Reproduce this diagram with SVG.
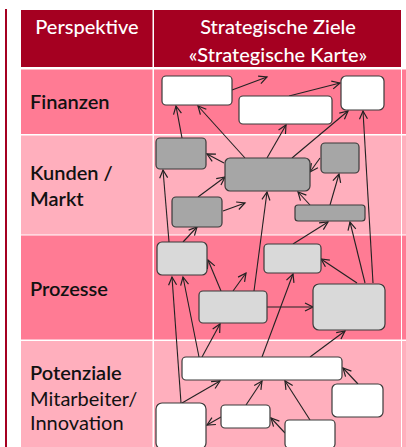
<svg xmlns="http://www.w3.org/2000/svg" width="406" height="447" viewBox="0 0 406 447">
<style>
.hdr{fill:#A50021}
.strong{fill:#FF7B94}
.light{fill:#FFAFBD}
.ht{font-family:Lato,"Liberation Sans",sans-serif;font-size:20px;fill:#fff;text-anchor:middle;font-weight:500}
.lt{font-family:Lato,"Liberation Sans",sans-serif;font-size:20px;fill:#111;font-weight:600}
.lr{font-family:Lato,"Liberation Sans",sans-serif;font-size:20px;fill:#111}
.box{stroke:#3a3a3a;stroke-width:1.2}
.w{fill:#fff}
.dg{fill:#A6A6A6}
.lg{fill:#D9D9D9}
.c line{stroke:#222;stroke-width:1.1;marker-end:url(#ah)}
</style>
<defs>
<marker id="ah" markerUnits="userSpaceOnUse" markerWidth="12" markerHeight="12" refX="9" refY="5" orient="auto">
<path d="M1,1 L9,5 L1,9" fill="none" stroke="#222" stroke-width="1.2"/>
</marker>
</defs>
<rect width="406" height="447" fill="#fff"/>
<rect x="5" y="9" width="2" height="438" class="hdr"/>
<g id="table">
<rect x="21" y="10" width="131.5" height="57" class="hdr"/>
<rect x="154" y="10" width="247" height="57" class="hdr"/>
<rect x="21" y="69.5" width="131.5" height="64.5" class="strong"/>
<rect x="154" y="69.5" width="247" height="64.5" class="strong"/>
<rect x="402" y="69.5" width="4" height="64.5" class="strong"/>
<rect x="21" y="135.5" width="131.5" height="99" class="light"/>
<rect x="154" y="135.5" width="247" height="99" class="light"/>
<rect x="402" y="135.5" width="4" height="99" class="light"/>
<rect x="21" y="235.5" width="131.5" height="104" class="strong"/>
<rect x="154" y="235.5" width="247" height="104" class="strong"/>
<rect x="402" y="235.5" width="4" height="104" class="strong"/>
<rect x="21" y="341" width="131.5" height="106" class="light"/>
<rect x="154" y="341" width="247" height="106" class="light"/>
<rect x="402" y="341" width="4" height="106" class="light"/>
<text class="ht" x="87" y="34">Perspektive</text>
<text class="ht" x="278" y="34">Strategische Ziele</text>
<text class="ht" x="278" y="62">«Strategische Karte»</text>
<text class="lt" x="30" y="109">Finanzen</text>
<text class="lt" x="30" y="180">Kunden /</text>
<text class="lt" x="30" y="206">Markt</text>
<text class="lt" x="30" y="296">Prozesse</text>
<text class="lt" x="30" y="380">Potenziale</text>
<text class="lr" x="30" y="406">Mitarbeiter/</text>
<text class="lr" x="30" y="430">Innovation</text>
</g>
<g id="connectors" class="c">
<line x1="232" y1="90" x2="267" y2="77"/>
<line x1="289" y1="96" x2="340" y2="83"/>
<line x1="182" y1="138" x2="176" y2="106"/>
<line x1="245" y1="158" x2="198" y2="106"/>
<line x1="267" y1="158" x2="286" y2="125"/>
<line x1="292" y1="158" x2="348" y2="111"/>
<line x1="373" y1="283" x2="363" y2="111"/>
<line x1="224" y1="163" x2="207" y2="154"/>
<line x1="320" y1="158" x2="310" y2="172"/>
<line x1="223" y1="211" x2="245" y2="203"/>
<line x1="198" y1="197" x2="225" y2="177"/>
<line x1="310" y1="205" x2="298" y2="192"/>
<line x1="330" y1="205" x2="339" y2="174"/>
<line x1="254" y1="291" x2="267" y2="192"/>
<line x1="169" y1="242" x2="163" y2="170"/>
<line x1="183" y1="242" x2="197" y2="227"/>
<line x1="293" y1="244" x2="328" y2="222"/>
<line x1="365" y1="283" x2="350" y2="222"/>
<line x1="221" y1="291" x2="208" y2="260"/>
<line x1="233" y1="291" x2="246" y2="273"/>
<line x1="267" y1="307" x2="313" y2="307"/>
<line x1="357" y1="283" x2="321" y2="259"/>
<line x1="262" y1="357" x2="293" y2="274"/>
<line x1="202" y1="357" x2="220" y2="324"/>
<line x1="181" y1="403" x2="172" y2="277"/>
<line x1="199" y1="357" x2="183" y2="277"/>
<line x1="310" y1="357" x2="345" y2="331"/>
<line x1="358" y1="384" x2="343" y2="368"/>
<line x1="182" y1="403" x2="220" y2="381"/>
<line x1="246" y1="405" x2="262" y2="381"/>
<line x1="310" y1="420" x2="285" y2="381"/>
<line x1="221" y1="417" x2="207" y2="425"/>
<line x1="285" y1="433" x2="271" y2="418"/>
</g>
<g id="F1"><rect class="box w" x="162" y="76" width="70" height="29" rx="4"/></g>
<g id="F2"><rect class="box w" x="239" y="96" width="93" height="28" rx="4"/></g>
<g id="F3"><rect class="box w" x="341" y="76" width="43" height="34" rx="5"/></g>
<g id="K1"><rect class="box dg" x="156" y="138" width="50" height="31" rx="4"/></g>
<g id="K2"><rect class="box dg" x="225" y="158" width="85" height="33" rx="5"/></g>
<g id="K3"><rect class="box dg" x="321" y="143" width="38" height="30" rx="4"/></g>
<g id="K4"><rect class="box dg" x="172" y="197" width="50" height="30" rx="4"/></g>
<g id="K5"><rect class="box dg" x="295" y="205" width="70" height="16" rx="3"/></g>
<g id="P1"><rect class="box lg" x="157" y="242" width="50" height="33" rx="5"/></g>
<g id="P2"><rect class="box lg" x="264" y="244" width="57" height="29" rx="4"/></g>
<g id="P3"><rect class="box lg" x="199" y="291" width="68" height="32" rx="4"/></g>
<g id="P4"><rect class="box lg" x="313" y="284" width="72" height="46" rx="6"/></g>
<g id="Pot1"><rect class="box w" x="182" y="357" width="160" height="23" rx="4"/></g>
<g id="Pot2"><rect class="box w" x="332" y="384" width="51" height="33" rx="5"/></g>
<g id="Pot3"><rect class="box w" x="221" y="405" width="49" height="23" rx="4"/></g>
<g id="Pot4"><rect class="box w" x="285" y="420" width="50" height="28" rx="4"/></g>
<g id="Pot5"><rect class="box w" x="156" y="403" width="50" height="46" rx="6"/></g>
</svg>
